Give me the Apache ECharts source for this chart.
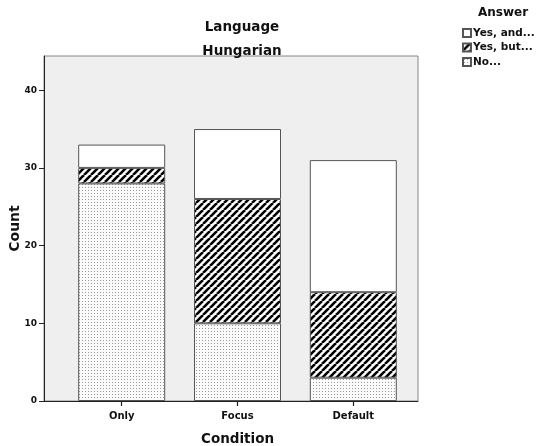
<!DOCTYPE html>
<html><head><meta charset="utf-8">
<script src="https://cdn.jsdelivr.net/npm/echarts@6/dist/echarts.min.js"></script>
<style>html,body{margin:0;padding:0;background:#fff}#c{width:537px;height:446px}</style>
</head><body><div id="c"></div>
<script>
const categories = ['Only', 'Focus', 'Default'];
const noValues = [28, 10, 3];
const yesButValues = [2, 16, 11];
const yesAndValues = [3, 9, 17];
const yTicks = [0, 10, 20, 30, 40];

function hatch() {
  const s = 7;
  const c = document.createElement('canvas');
  c.width = s; c.height = s;
  const g = c.getContext('2d');
  g.fillStyle = '#fff'; g.fillRect(0, 0, s, s);
  g.strokeStyle = '#000'; g.lineWidth = 2.6;
  for (const o of [-s, 0, s]) {
    g.beginPath(); g.moveTo(o, s); g.lineTo(o + s, 0); g.stroke();
  }
  return c;
}
function dots() {
  const c = document.createElement('canvas');
  c.width = 3; c.height = 3;
  const g = c.getContext('2d');
  g.fillStyle = '#fbfbfb'; g.fillRect(0, 0, 3, 3);
  g.fillStyle = '#999'; g.fillRect(1, 1, 1, 1);
  return c;
}
const font = 'DejaVu Sans';
const chart = echarts.init(document.getElementById('c'));
const border = { borderColor: '#555', borderWidth: 1 };
const yMax = 44.4;
chart.setOption({
  animation: false,
  title: [
    { text: 'Language', left: 237, top: 15, textAlign: 'center',
      textStyle: { fontFamily: font, fontWeight: 'bold', fontSize: 13.5, color: '#111' } },
    { text: 'Hungarian', left: 237, top: 39, textAlign: 'center',
      textStyle: { fontFamily: font, fontWeight: 'bold', fontSize: 13.5, color: '#111' } },
    { text: 'Answer', left: 498, top: 2, textAlign: 'center',
      textStyle: { fontFamily: font, fontWeight: 'bold', fontSize: 12, color: '#111' } }
  ],
  legend: {
    orient: 'vertical', left: 462, top: 27, padding: 0, itemWidth: 8, itemHeight: 8, itemGap: 2.5,
    icon: 'rect', data: ['Yes, and...', 'Yes, but...', 'No...'],
    textStyle: { fontFamily: font, fontWeight: 'bold', fontSize: 10.5, lineHeight: 12, color: '#111', padding: [0, 0, 0, -3] }
  },
  grid: [
    { left: 44, right: 119, top: 56, bottom: 45, show: true, outerBoundsMode: 'none',
      backgroundColor: '#efefef', borderColor: '#888', borderWidth: 1 },
    { left: 63.8, right: 125.8, top: 56, bottom: 45, show: false, outerBoundsMode: 'none' }
  ],
  xAxis: [
    { gridIndex: 0, type: 'value', min: 0, max: 1,
      splitLine: { show: false }, axisTick: { show: false }, axisLabel: { show: false },
      axisLine: { lineStyle: { color: '#222' } } },
    { gridIndex: 1, type: 'category', data: categories, z: 10,
      name: 'Condition', nameLocation: 'middle', nameGap: 31, nameMoveOverlap: false,
      nameTextStyle: { fontFamily: font, fontWeight: 'bold', fontSize: 13.5, color: '#111' },
      axisLine: { show: true, lineStyle: { color: '#222' } },
      axisTick: { show: true, interval: 0, alignWithLabel: true, length: 5, lineStyle: { color: '#222', width: 1.2 } },
      axisLabel: { interval: 0, fontFamily: font, fontWeight: 'bold', fontSize: 10, color: '#111', margin: 10 } }
  ],
  yAxis: [
    { gridIndex: 0, type: 'value', min: 0, max: yMax,
      name: 'Count', nameLocation: 'middle', nameGap: 22, nameMoveOverlap: false,
      nameTextStyle: { fontFamily: font, fontWeight: 'bold', fontSize: 14, color: '#111' },
      splitLine: { show: false },
      axisLine: { show: true, lineStyle: { color: '#222' } },
      axisTick: { show: true, length: 5, customValues: yTicks, lineStyle: { color: '#222' } },
      axisLabel: { fontFamily: font, fontWeight: 'bold', fontSize: 9, color: '#111', margin: 7, customValues: yTicks } },
    { gridIndex: 1, type: 'value', min: 0, max: yMax, show: false, splitLine: { show: false } }
  ],
  series: [
    { name: 'No...', type: 'bar', stack: 's', data: noValues, barWidth: 87, xAxisIndex: 1, yAxisIndex: 1,
      itemStyle: Object.assign({ color: { image: dots(), repeat: 'repeat' } }, border) },
    { name: 'Yes, but...', type: 'bar', stack: 's', data: yesButValues, barWidth: 87, xAxisIndex: 1, yAxisIndex: 1,
      itemStyle: Object.assign({ color: { image: hatch(), repeat: 'repeat' } }, border) },
    { name: 'Yes, and...', type: 'bar', stack: 's', data: yesAndValues, barWidth: 87, xAxisIndex: 1, yAxisIndex: 1,
      itemStyle: Object.assign({ color: '#fff' }, border) }
  ]
});
</script></body></html>
